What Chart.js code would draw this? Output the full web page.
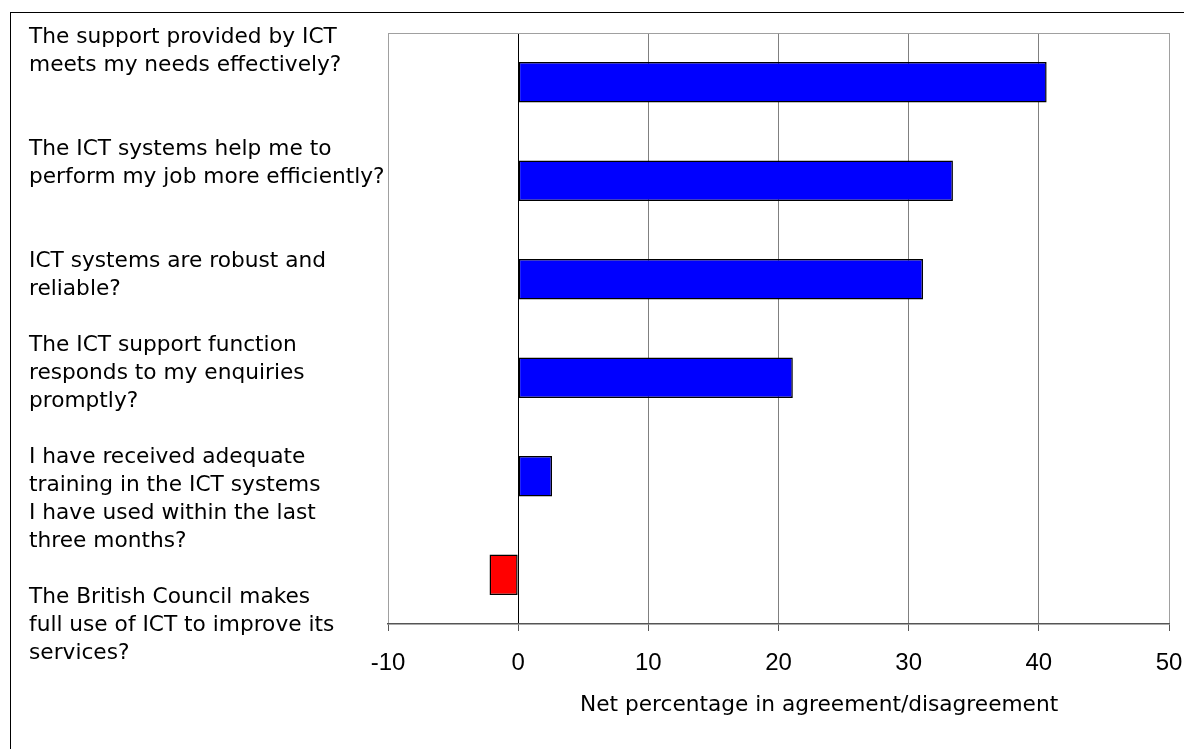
<!DOCTYPE html>
<html>
<head>
<meta charset="utf-8">
<script src="https://cdn.jsdelivr.net/npm/chart.js@4"></script>
<style>
  body { margin: 0; background: #fff; }
</style>
</head>
<body>
<canvas id="ictChart" width="1184" height="749"></canvas>
<script>
// survey statements, one per bar, top to bottom
const questions = [
  ["The support provided by ICT", "meets my needs effectively?"],
  ["The ICT systems help me to", "perform my job more efficiently?"],
  ["ICT systems are robust and", "reliable?"],
  ["The ICT support function", "responds to my enquiries", "promptly?"],
  ["I have received adequate", "training in the ICT systems", "I have used within the last", "three months?"],
  ["The British Council makes", "full use of ICT to improve its", "services?"]
];
const netAgreement = [40.6, 33.4, 31.1, 21.1, 2.6, -2.2];
const tickValues = [-10, 0, 10, 20, 30, 40, 50];
const axisTitle = "Net percentage in agreement/disagreement";

// blank lines between statements in the label column
const gapLines = [2, 2, 1, 1, 1];
const labelFont = '21.7px "DejaVu Sans"';

const sideText = {
  id: "sideText",
  afterDraw(chart) {
    const ctx = chart.ctx;
    const area = chart.chartArea;
    ctx.save();
    ctx.fillStyle = "#000";
    ctx.font = labelFont;
    ctx.textAlign = "left";
    ctx.textBaseline = "alphabetic";
    let line = 0;
    questions.forEach((q, i) => {
      q.forEach(t => {
        ctx.fillText(t, 29, area.top + 9.5 + line * 28);
        line++;
      });
      line += gapLines[i] || 0;
    });

    // x axis title
    ctx.textAlign = "center";
    ctx.textBaseline = "middle";
    ctx.fillText(axisTitle, area.left + area.width * 0.552, area.bottom + 81);

    // top edge of the plot box
    ctx.strokeStyle = "#a0a0a0";
    ctx.lineWidth = 1;
    ctx.beginPath();
    ctx.moveTo(area.left, area.top + 0.5);
    ctx.lineTo(area.right, area.top + 0.5);
    ctx.stroke();

    // outer frame
    ctx.strokeStyle = "#000";
    ctx.strokeRect(10.5, 12.5, 1300, 900);
    ctx.restore();
  }
};

new Chart(document.getElementById("ictChart"), {
  type: "bar",
  data: {
    labels: questions.map(q => q.join(" ")),
    datasets: [{
      data: netAgreement,
      backgroundColor: netAgreement.map(v => v < 0 ? "#ff0000" : "#0000ff"),
      borderColor: "#000",
      borderWidth: 1.5,
      borderSkipped: false,
      categoryPercentage: 1,
      barPercentage: 0.41
    }]
  },
  options: {
    indexAxis: "y",
    responsive: false,
    animation: false,
    layout: { padding: { left: 388, top: 33, right: 15, bottom: 0 } },
    plugins: {
      legend: { display: false },
      tooltip: { enabled: false }
    },
    scales: {
      x: {
        min: tickValues[0],
        max: tickValues[tickValues.length - 1],
        afterBuildTicks: s => { s.ticks = tickValues.map(v => ({ value: v })); },
        afterFit: s => {
          s.height = 125;
          // let the "50" label run off the edge instead of shrinking the plot
          s.paddingLeft = 0;
          s.paddingRight = 0;
        },
        grid: {
          color: c => {
            const v = c.tick.value;
            if (v === 0) return "#000";
            if (v === tickValues[0] || v === tickValues[tickValues.length - 1]) return "#a0a0a0";
            return "#808080";
          },
          tickLength: 7,
          tickColor: "#555"
        },
        border: { color: "#555", width: 1.5 },
        ticks: {
          color: "#000",
          font: { family: "Liberation Sans", size: 24 },
          padding: 18
        }
      },
      y: { display: false }
    }
  },
  plugins: [sideText]
});
</script>
</body>
</html>
